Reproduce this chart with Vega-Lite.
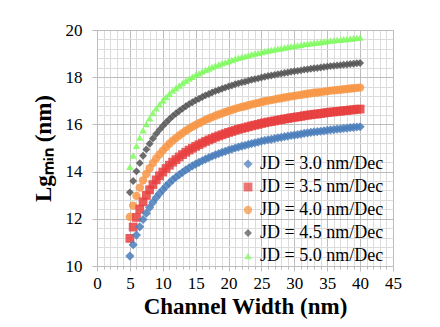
{
  "$schema": "https://vega.github.io/schema/vega-lite/v6.json",
  "width": 296,
  "height": 236,
  "autosize": "none",
  "padding": {"left": 97, "top": 30, "right": 47, "bottom": 61},
  "background": "white",
  "config": {
    "view": {"stroke": null},
    "font": "Liberation Serif",
    "axis": {"labelFont": "Liberation Serif", "titleFont": "Liberation Serif"},
    "legend": {"labelFont": "Liberation Serif"}
  },
  "data": {"values": [
    {"w":5,"j30":10.42,"j35":11.17,"j40":12.08,"j45":13.12,"j50":14.20},
    {"w":5.5,"j30":10.90,"j35":11.65,"j40":12.56,"j45":13.60,"j50":14.68},
    {"w":6,"j30":11.31,"j35":12.06,"j40":12.97,"j45":14.01,"j50":15.09},
    {"w":6.5,"j30":11.66,"j35":12.41,"j40":13.32,"j45":14.36,"j50":15.44},
    {"w":7,"j30":11.97,"j35":12.72,"j40":13.63,"j45":14.67,"j50":15.75},
    {"w":7.5,"j30":12.24,"j35":12.99,"j40":13.90,"j45":14.94,"j50":16.02},
    {"w":8,"j30":12.48,"j35":13.23,"j40":14.14,"j45":15.18,"j50":16.26},
    {"w":8.5,"j30":12.70,"j35":13.45,"j40":14.36,"j45":15.40,"j50":16.48},
    {"w":9,"j30":12.90,"j35":13.65,"j40":14.56,"j45":15.60,"j50":16.68},
    {"w":9.5,"j30":13.07,"j35":13.82,"j40":14.73,"j45":15.77,"j50":16.85},
    {"w":10,"j30":13.23,"j35":13.98,"j40":14.89,"j45":15.93,"j50":17.01},
    {"w":10.5,"j30":13.38,"j35":14.13,"j40":15.04,"j45":16.08,"j50":17.16},
    {"w":11,"j30":13.52,"j35":14.27,"j40":15.18,"j45":16.22,"j50":17.30},
    {"w":11.5,"j30":13.65,"j35":14.40,"j40":15.31,"j45":16.35,"j50":17.43},
    {"w":12,"j30":13.76,"j35":14.51,"j40":15.42,"j45":16.46,"j50":17.54},
    {"w":12.5,"j30":13.87,"j35":14.62,"j40":15.53,"j45":16.57,"j50":17.65},
    {"w":13,"j30":13.97,"j35":14.72,"j40":15.63,"j45":16.67,"j50":17.75},
    {"w":13.5,"j30":14.07,"j35":14.82,"j40":15.73,"j45":16.77,"j50":17.85},
    {"w":14,"j30":14.16,"j35":14.91,"j40":15.82,"j45":16.86,"j50":17.94},
    {"w":14.5,"j30":14.24,"j35":14.99,"j40":15.90,"j45":16.94,"j50":18.02},
    {"w":15,"j30":14.32,"j35":15.07,"j40":15.98,"j45":17.02,"j50":18.10},
    {"w":15.5,"j30":14.39,"j35":15.14,"j40":16.05,"j45":17.09,"j50":18.17},
    {"w":16,"j30":14.46,"j35":15.21,"j40":16.12,"j45":17.16,"j50":18.24},
    {"w":16.5,"j30":14.53,"j35":15.28,"j40":16.19,"j45":17.23,"j50":18.31},
    {"w":17,"j30":14.59,"j35":15.34,"j40":16.25,"j45":17.29,"j50":18.37},
    {"w":17.5,"j30":14.65,"j35":15.40,"j40":16.31,"j45":17.35,"j50":18.43},
    {"w":18,"j30":14.71,"j35":15.46,"j40":16.37,"j45":17.41,"j50":18.49},
    {"w":18.5,"j30":14.76,"j35":15.51,"j40":16.42,"j45":17.46,"j50":18.54},
    {"w":19,"j30":14.81,"j35":15.56,"j40":16.47,"j45":17.51,"j50":18.59},
    {"w":19.5,"j30":14.86,"j35":15.61,"j40":16.52,"j45":17.56,"j50":18.64},
    {"w":20,"j30":14.91,"j35":15.66,"j40":16.57,"j45":17.61,"j50":18.69},
    {"w":20.5,"j30":14.95,"j35":15.70,"j40":16.61,"j45":17.65,"j50":18.73},
    {"w":21,"j30":15.00,"j35":15.75,"j40":16.66,"j45":17.70,"j50":18.78},
    {"w":21.5,"j30":15.04,"j35":15.79,"j40":16.70,"j45":17.74,"j50":18.82},
    {"w":22,"j30":15.08,"j35":15.83,"j40":16.74,"j45":17.78,"j50":18.86},
    {"w":22.5,"j30":15.11,"j35":15.86,"j40":16.77,"j45":17.81,"j50":18.89},
    {"w":23,"j30":15.15,"j35":15.90,"j40":16.81,"j45":17.85,"j50":18.93},
    {"w":23.5,"j30":15.19,"j35":15.94,"j40":16.85,"j45":17.89,"j50":18.97},
    {"w":24,"j30":15.22,"j35":15.97,"j40":16.88,"j45":17.92,"j50":19.00},
    {"w":24.5,"j30":15.25,"j35":16.00,"j40":16.91,"j45":17.95,"j50":19.03},
    {"w":25,"j30":15.29,"j35":16.04,"j40":16.95,"j45":17.99,"j50":19.07},
    {"w":25.5,"j30":15.32,"j35":16.07,"j40":16.98,"j45":18.02,"j50":19.10},
    {"w":26,"j30":15.35,"j35":16.10,"j40":17.01,"j45":18.05,"j50":19.13},
    {"w":26.5,"j30":15.37,"j35":16.12,"j40":17.03,"j45":18.07,"j50":19.15},
    {"w":27,"j30":15.40,"j35":16.15,"j40":17.06,"j45":18.10,"j50":19.18},
    {"w":27.5,"j30":15.43,"j35":16.18,"j40":17.09,"j45":18.13,"j50":19.21},
    {"w":28,"j30":15.45,"j35":16.20,"j40":17.11,"j45":18.15,"j50":19.23},
    {"w":28.5,"j30":15.48,"j35":16.23,"j40":17.14,"j45":18.18,"j50":19.26},
    {"w":29,"j30":15.50,"j35":16.25,"j40":17.16,"j45":18.20,"j50":19.28},
    {"w":29.5,"j30":15.53,"j35":16.28,"j40":17.19,"j45":18.23,"j50":19.31},
    {"w":30,"j30":15.55,"j35":16.30,"j40":17.21,"j45":18.25,"j50":19.33},
    {"w":30.5,"j30":15.57,"j35":16.32,"j40":17.23,"j45":18.27,"j50":19.35},
    {"w":31,"j30":15.59,"j35":16.34,"j40":17.25,"j45":18.29,"j50":19.37},
    {"w":31.5,"j30":15.62,"j35":16.37,"j40":17.28,"j45":18.32,"j50":19.40},
    {"w":32,"j30":15.64,"j35":16.39,"j40":17.30,"j45":18.34,"j50":19.42},
    {"w":32.5,"j30":15.66,"j35":16.41,"j40":17.32,"j45":18.36,"j50":19.44},
    {"w":33,"j30":15.68,"j35":16.43,"j40":17.34,"j45":18.38,"j50":19.46},
    {"w":33.5,"j30":15.69,"j35":16.44,"j40":17.35,"j45":18.39,"j50":19.47},
    {"w":34,"j30":15.71,"j35":16.46,"j40":17.37,"j45":18.41,"j50":19.49},
    {"w":34.5,"j30":15.73,"j35":16.48,"j40":17.39,"j45":18.43,"j50":19.51},
    {"w":35,"j30":15.75,"j35":16.50,"j40":17.41,"j45":18.45,"j50":19.53},
    {"w":35.5,"j30":15.77,"j35":16.52,"j40":17.43,"j45":18.47,"j50":19.55},
    {"w":36,"j30":15.78,"j35":16.53,"j40":17.44,"j45":18.48,"j50":19.56},
    {"w":36.5,"j30":15.80,"j35":16.55,"j40":17.46,"j45":18.50,"j50":19.58},
    {"w":37,"j30":15.81,"j35":16.56,"j40":17.47,"j45":18.51,"j50":19.59},
    {"w":37.5,"j30":15.83,"j35":16.58,"j40":17.49,"j45":18.53,"j50":19.61},
    {"w":38,"j30":15.84,"j35":16.59,"j40":17.50,"j45":18.54,"j50":19.62},
    {"w":38.5,"j30":15.86,"j35":16.61,"j40":17.52,"j45":18.56,"j50":19.64},
    {"w":39,"j30":15.87,"j35":16.62,"j40":17.53,"j45":18.57,"j50":19.65},
    {"w":39.5,"j30":15.89,"j35":16.64,"j40":17.55,"j45":18.59,"j50":19.67},
    {"w":40,"j30":15.90,"j35":16.65,"j40":17.56,"j45":18.60,"j50":19.68}
  ]},
  "transform": [{"fold": ["j30","j35","j40","j45","j50"], "as": ["s","y"]}],
  "mark": {"type": "point", "filled": true, "opacity": 0.85},
  "encoding": {
    "x": {
      "field": "w", "type": "quantitative",
      "scale": {"domain": [0, 45], "nice": false, "zero": false},
      "axis": {
        "values": [0,1,2,3,4,5,6,7,8,9,10,11,12,13,14,15,16,17,18,19,20,21,22,23,24,25,26,27,28,29,30,31,32,33,34,35,36,37,38,39,40,41,42,43,44,45],
        "labelExpr": "datum.value % 5 == 0 ? format(datum.value, 'd') : ''",
        "title": "Channel Width (nm)",
        "grid": true,
        "gridColor": {"condition": {"test": "datum.value % 5 == 0", "value": "#BDBDBD"}, "value": "#DCDCDC"},
        "gridWidth": 1,
        "tickSize": {"condition": {"test": "datum.value % 5 == 0", "value": 5}, "value": 3},
        "tickColor": "#BDBDBD",
        "domainColor": "#BDBDBD",
        "labelFont": "Liberation Serif", "labelFontSize": 17, "labelColor": "#000000",
        "labelPadding": 4, "labelFlush": false, "labelOverlap": false,
        "titleFont": "Liberation Serif", "titleFontSize": 23, "titleFontWeight": "bold",
        "titleColor": "#000000", "titlePadding": 4
      }
    },
    "y": {
      "field": "y", "type": "quantitative",
      "scale": {"domain": [10, 20], "nice": false, "zero": false},
      "axis": {
        "values": [10,10.4,10.8,11.2,11.6,12,12.4,12.8,13.2,13.6,14,14.4,14.8,15.2,15.6,16,16.4,16.8,17.2,17.6,18,18.4,18.8,19.2,19.6,20],
        "labelExpr": "datum.value % 2 == 0 ? format(datum.value, 'd') : ''",
        "title": "Lgₘᵢₙ (nm)",
        "grid": true,
        "gridColor": {"condition": {"test": "datum.value % 2 == 0", "value": "#BDBDBD"}, "value": "#DCDCDC"},
        "gridWidth": 1,
        "tickSize": {"condition": {"test": "datum.value % 2 == 0", "value": 5}, "value": 0},
        "tickColor": "#BDBDBD",
        "domainColor": "#BDBDBD",
        "labelFont": "Liberation Serif", "labelFontSize": 17, "labelColor": "#000000",
        "labelPadding": 10, "labelFlush": false, "labelOverlap": false,
        "titleFont": "Liberation Serif", "titleFontSize": 23, "titleFontWeight": "bold",
        "titleColor": "#000000", "titlePadding": 10
      }
    },
    "color": {
      "field": "s", "type": "nominal",
      "scale": {"domain": ["j30","j35","j40","j45","j50"], "range": ["#4A7EBB","#E8403F","#F79646","#555555","#7CFC5C"]},
      "legend": {
        "orient": "none", "legendX": 142, "legendY": 125, "title": null,
        "padding": 0, "rowPadding": 5,
        "labelFont": "Liberation Serif", "labelFontSize": 18, "labelColor": "#000000",
        "labelExpr": "'JD = ' + slice(datum.label, 1, 2) + '.' + slice(datum.label, 2) + ' nm/Dec'",
        "symbolOpacity": 0.55, "labelOffset": 3
      }
    },
    "shape": {
      "field": "s", "type": "nominal",
      "scale": {"domain": ["j30","j35","j40","j45","j50"], "range": ["diamond","square","circle","diamond","triangle-up"]}
    },
    "size": {
      "field": "s", "type": "nominal",
      "scale": {"domain": ["j30","j35","j40","j45","j50"], "range": [85, 55, 60, 75, 60]}
    }
  }
}
